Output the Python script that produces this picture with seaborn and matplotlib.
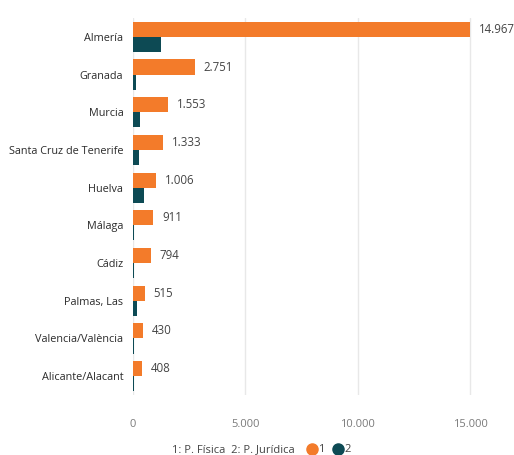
import matplotlib
matplotlib.use("Agg")
import matplotlib.pyplot as plt
from matplotlib.lines import Line2D
import seaborn as sns
import pandas as pd

provincias = ["Almería", "Granada", "Murcia", "Santa Cruz de Tenerife", "Huelva",
              "Málaga", "Cádiz", "Palmas, Las", "Valencia/València", "Alicante/Alacant"]
serie1 = [14967, 2751, 1553, 1333, 1006, 911, 794, 515, 430, 408]
serie2 = [1250, 130, 290, 250, 470, 40, 40, 160, 35, 35]
xticks = [0, 5000, 10000, 15000]
xtick_labels = ["0", "5.000", "10.000", "15.000"]

df = pd.DataFrame({
    "prov": provincias * 2,
    "val": serie1 + serie2,
    "tipo": ["1"] * len(provincias) + ["2"] * len(provincias),
})

sns.set_style("white")
plt.rcParams["font.family"] = ["Open Sans", "DejaVu Sans"]

colors = {"1": "#F37B2A", "2": "#0D4A54"}
fig = plt.figure(figsize=(5.14, 4.55), dpi=100)
ax = fig.add_axes([133 / 514, 1 - 395 / 455, (504 - 133) / 514, (395 - 18) / 455])

sns.barplot(data=df, y="prov", x="val", hue="tipo", palette=colors, orient="h",
            width=0.8, dodge=True, ax=ax, legend=False, saturation=1, linewidth=0)

ax.set_xlim(0, 16500)
ax.set_ylim(9.5, -0.5)
ax.set_xticks(xticks)
ax.set_xticklabels(xtick_labels, color="#7a7a7a", fontsize=8)
ax.tick_params(axis="y", labelsize=7.8, labelcolor="#2b2b2b", length=0, pad=7)
ax.tick_params(axis="x", length=0, pad=17)
ax.set_xlabel("")
ax.set_ylabel("")
ax.grid(axis="x", color="#e8e8e8", linewidth=1)
ax.set_axisbelow(True)
for s in ax.spines.values():
    s.set_visible(False)

def fmt(v):
    return f"{int(v):,}".replace(",", ".")

ax.bar_label(ax.containers[0], labels=[fmt(v) for v in serie1], padding=6.5,
             fontsize=8.3, color="#444444")

fig.text(172 / 514, 1 - 450 / 455, "1: P. Física  2: P. Jurídica", fontsize=8,
         color="#444444", ha="left", va="center")
handles = [Line2D([], [], marker="o", linestyle="", markersize=8, color=colors["1"]),
           Line2D([], [], marker="o", linestyle="", markersize=8, color=colors["2"])]
fig.legend(handles, ["1", "2"], loc="center left", bbox_to_anchor=(305 / 514, 1 - 450 / 455),
           ncol=2, frameon=False, handletextpad=0.0, columnspacing=0.6,
           fontsize=8, labelcolor="#444444", borderaxespad=0, borderpad=0, handlelength=1.2)

fig.savefig("out.png", dpi=100)
